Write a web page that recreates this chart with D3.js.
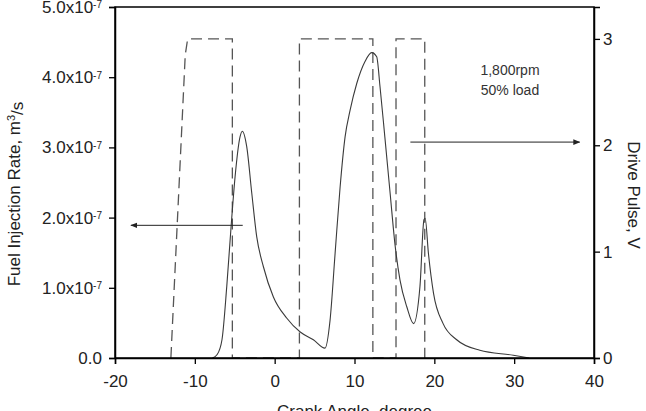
<!DOCTYPE html>
<html>
<head>
<meta charset="utf-8">
<script src="https://cdn.jsdelivr.net/npm/d3@7"></script>
<style>
  body { margin: 0; background: #fff; }
  svg { font-family: "Liberation Sans", Arial, sans-serif; }
</style>
</head>
<body>
<svg id="chart" width="646" height="411"></svg>
<script>
// fuel injection rate, crank angle (deg) vs rate (x 1e-7 m^3/s)
const rateAngle = [-7.8, -7.2, -6.6, -6.0, -5.46, -4.96, -4.34, -4.05, -3.5, -2.87, -2.25, -1.41, -0.16, 1.5, 3.2, 4.85, 6.3,
  6.94, 7.57, 8.2, 8.82, 9.45, 10.28, 11.3, 12.15, 12.78, 13.2, 13.8, 14.46, 15.1, 15.7, 16.55, 17.4,
  18.2, 18.7, 18.85, 19.26, 19.9, 21.1, 22.8, 25.7, 29.9, 31.9];
const rateValue = [0, 0.05, 0.26, 1.02, 1.87, 2.58, 3.15, 3.23, 3.01, 2.35, 1.73, 1.30, 0.87, 0.57, 0.37, 0.26, 0.14,
  0.54, 1.49, 2.44, 3.15, 3.53, 3.91, 4.22, 4.35, 4.29, 3.86, 3.15, 2.35, 1.59, 1.11, 0.73, 0.49,
  1.02, 1.97, 1.99, 1.49, 0.92, 0.49, 0.26, 0.11, 0.04, 0];

// drive pulse, crank angle (deg) vs volts
const pulseAngle = [-13, -11.2, -10.9, -5.3, -5.3, 3.1, 3.1, 12.3, 12.3, 15.2, 15.2, 18.8, 18.8];
const pulseVolt = [0, 2.85, 3, 3, 0, 0, 3, 3, 0, 0, 3, 3, 0];

const xTicks = [-20, -10, 0, 10, 20, 30, 40];
const leftTicks = [0, 1, 2, 3, 4, 5];
const rightTicks = [0, 1, 2, 3];

// arrows: [angle start, angle end, level]
const leftArrow = [-4, -18, 1.89];
const rightArrow = [17, 38.2, 2.03];

const svg = d3.select('#chart');
const margin = { top: 7, right: 52, bottom: 53, left: 115 };
const width = 646 - margin.left - margin.right;
const height = 411 - margin.top - margin.bottom;

const chart = svg.append('g')
  .attr('transform', `translate(${margin.left}, ${margin.top})`);

const x = d3.scaleLinear().domain([-20, 40]).range([0, width]);
const yRate = d3.scaleLinear().domain([0, 5]).range([height, 0]);
const yVolt = d3.scaleLinear().domain([0, 3.3]).range([height, 0]);

svg.append('defs').append('marker')
  .attr('id', 'head')
  .attr('viewBox', '0 0 10 10')
  .attr('refX', 9).attr('refY', 5)
  .attr('markerWidth', 7).attr('markerHeight', 7)
  .attr('markerUnits', 'userSpaceOnUse')
  .attr('orient', 'auto')
  .append('path')
  .attr('d', 'M0,1 L10,5 L0,9 Z')
  .attr('fill', '#222');

// drive pulse (dashed)
chart.append('path')
  .datum(pulseAngle.map((a, i) => [a, pulseVolt[i]]))
  .attr('fill', 'none')
  .attr('stroke', '#555')
  .attr('stroke-width', 1.3)
  .attr('stroke-dasharray', '11,6')
  .attr('d', d3.line().x(d => x(d[0])).y(d => yVolt(d[1])));

// injection rate (solid)
chart.append('path')
  .datum(rateAngle.map((a, i) => [a, rateValue[i]]))
  .attr('fill', 'none')
  .attr('stroke', '#3a3a3a')
  .attr('stroke-width', 1.1)
  .attr('d', d3.line().curve(d3.curveMonotoneX).x(d => x(d[0])).y(d => yRate(d[1])));

// arrows
chart.append('line')
  .attr('x1', x(leftArrow[0])).attr('x2', x(leftArrow[1]))
  .attr('y1', yRate(leftArrow[2])).attr('y2', yRate(leftArrow[2]))
  .attr('stroke', '#222').attr('stroke-width', 1)
  .attr('marker-end', 'url(#head)');

chart.append('line')
  .attr('x1', x(rightArrow[0])).attr('x2', x(rightArrow[1]))
  .attr('y1', yVolt(rightArrow[2])).attr('y2', yVolt(rightArrow[2]))
  .attr('stroke', '#222').attr('stroke-width', 1)
  .attr('marker-end', 'url(#head)');

// frame
chart.append('rect')
  .attr('width', width).attr('height', height)
  .attr('fill', 'none').attr('stroke', '#000').attr('stroke-width', 1.5);

const styleAxis = g => {
  g.select('.domain').attr('stroke-width', 1.5);
  g.selectAll('.tick line').attr('stroke-width', 1.3);
  g.selectAll('.tick text').attr('fill', '#222');
};

chart.append('g')
  .attr('transform', `translate(0, ${height})`)
  .call(d3.axisBottom(x).tickValues(xTicks).tickSize(6).tickPadding(11).tickFormat(d => String(d)))
  .attr('font-size', 17)
  .attr('font-family', null)
  .call(styleAxis);

chart.append('g')
  .call(d3.axisLeft(yRate).tickValues(leftTicks).tickSize(6).tickPadding(7).tickFormat(d => d))
  .attr('font-size', 17)
  .attr('font-family', null)
  .call(styleAxis)
  .call(g => g.selectAll('.tick text').each(function (d) {
    const t = d3.select(this).text('');
    if (d === 0) { t.text('0.0'); return; }
    t.append('tspan').text(`${d.toFixed(1)}x10`);
    t.append('tspan').attr('dy', '-0.45em').attr('font-size', 10).text('-7');
  }));

chart.append('g')
  .attr('transform', `translate(${width}, 0)`)
  .call(d3.axisRight(yVolt).tickValues(rightTicks).tickSize(6).tickPadding(3).tickFormat(d => String(d)))
  .attr('font-size', 17)
  .attr('font-family', null)
  .call(styleAxis);

// axis titles
svg.append('text')
  .attr('x', margin.left + width / 2)
  .attr('y', 417)
  .attr('text-anchor', 'middle')
  .attr('font-size', 17)
  .attr('fill', '#222')
  .text('Crank Angle, degree');

const leftTitle = svg.append('text')
  .attr('transform', 'translate(20, 194) rotate(-90)')
  .attr('text-anchor', 'middle')
  .attr('font-size', 17)
  .attr('fill', '#222');
leftTitle.append('tspan').text('Fuel Injection Rate, m');
leftTitle.append('tspan').attr('dy', '-0.5em').attr('font-size', 11).text('3');
leftTitle.append('tspan').attr('dy', '0.5em').text('/s');

svg.append('text')
  .attr('transform', 'translate(628, 195) rotate(90)')
  .attr('text-anchor', 'middle')
  .attr('font-size', 17)
  .attr('fill', '#222')
  .text('Drive Pulse, V');

// condition note
svg.append('text')
  .attr('x', 510).attr('y', 75)
  .attr('text-anchor', 'middle')
  .attr('font-size', 14)
  .attr('fill', '#333')
  .text('1,800rpm');

svg.append('text')
  .attr('x', 510).attr('y', 95)
  .attr('text-anchor', 'middle')
  .attr('font-size', 14)
  .attr('fill', '#333')
  .text('50% load');
</script>
</body>
</html>
